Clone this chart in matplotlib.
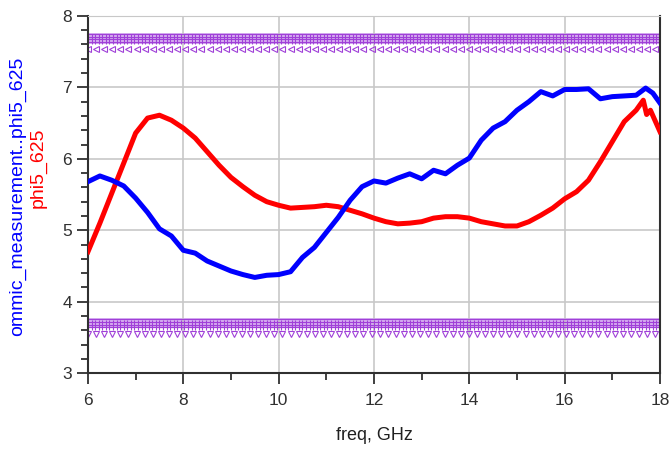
import numpy as np
import matplotlib
matplotlib.use("Agg")
import matplotlib.pyplot as plt

plt.rcParams['font.family'] = ['Liberation Sans', 'DejaVu Sans']

# measured curve (blue)
freq_meas = [6.0, 6.25, 6.5, 6.75, 7.0, 7.25, 7.5, 7.75, 8.0, 8.25, 8.5, 8.75,
             9.0, 9.25, 9.5, 9.75, 10.0, 10.25, 10.5, 10.75, 11.0, 11.25, 11.5,
             11.75, 12.0, 12.25, 12.5, 12.75, 13.0, 13.25, 13.5, 13.75, 14.0,
             14.25, 14.5, 14.75, 15.0, 15.25, 15.5, 15.75, 16.0, 16.25, 16.5,
             16.75, 17.0, 17.25, 17.5, 17.7, 17.85, 18.0]
phi_meas = [5.68, 5.76, 5.70, 5.62, 5.45, 5.25, 5.02, 4.92, 4.72, 4.68, 4.57, 4.50,
            4.43, 4.38, 4.34, 4.37, 4.38, 4.42, 4.62, 4.76, 4.97, 5.18, 5.42,
            5.61, 5.69, 5.66, 5.73, 5.79, 5.72, 5.84, 5.79, 5.91, 6.01,
            6.26, 6.43, 6.52, 6.68, 6.80, 6.94, 6.88, 6.97, 6.97, 6.98,
            6.84, 6.87, 6.88, 6.89, 6.99, 6.92, 6.78]

# simulated curve (red)
freq_sim = [6.0, 6.25, 6.5, 6.75, 7.0, 7.25, 7.5, 7.75, 8.0, 8.25, 8.5, 8.75,
            9.0, 9.25, 9.5, 9.75, 10.0, 10.25, 10.5, 10.75, 11.0, 11.25, 11.5,
            11.75, 12.0, 12.25, 12.5, 12.75, 13.0, 13.25, 13.5, 13.75, 14.0,
            14.25, 14.5, 14.75, 15.0, 15.25, 15.5, 15.75, 16.0, 16.25, 16.5,
            16.75, 17.0, 17.25, 17.5, 17.65, 17.72, 17.8, 18.0]
phi_sim = [4.70, 5.10, 5.52, 5.94, 6.36, 6.57, 6.61, 6.54, 6.43, 6.29, 6.10, 5.91,
           5.74, 5.61, 5.49, 5.40, 5.35, 5.31, 5.32, 5.33, 5.35, 5.33, 5.28,
           5.23, 5.17, 5.12, 5.09, 5.10, 5.12, 5.17, 5.19, 5.19, 5.17,
           5.12, 5.09, 5.06, 5.06, 5.12, 5.21, 5.31, 5.44, 5.54, 5.70,
           5.96, 6.24, 6.52, 6.68, 6.82, 6.62, 6.68, 6.38]

# limit bands (purple)
upper_band = (7.61, 7.76)
upper_lines = [7.75, 7.71, 7.67, 7.63]
upper_marks = 7.54
lower_band = (3.63, 3.77)
lower_lines = [3.76, 3.72, 3.68, 3.64]
lower_marks = 3.555

fig = plt.figure(figsize=(6.69, 4.54), dpi=100)
ax = fig.add_axes([0.1315, 0.178, 0.855, 0.787])

purple = '#a040d8'
tick_x = np.arange(6.0, 18.01, 0.075)
mark_x = np.arange(6.0, 18.01, 0.17)
for lo, hi in [upper_band, lower_band]:
    ax.axhspan(lo, hi, color='#d4aaf0', alpha=0.85, lw=0, zorder=1)
for y in upper_lines + lower_lines:
    ax.axhline(y, color=purple, lw=0.9, zorder=2)
for y in [upper_lines[2], lower_lines[2]]:
    ax.plot(tick_x, [y] * len(tick_x), ls='none', marker='|', ms=7,
            color=purple, mew=0.8, zorder=2)
ax.plot(mark_x, [upper_marks] * len(mark_x), ls='none', marker='<', ms=4,
        mfc='none', mec=purple, mew=0.8, zorder=2)
ax.plot(mark_x, [lower_marks] * len(mark_x), ls='none', marker='v', ms=4,
        mfc='none', mec=purple, mew=0.8, zorder=2)

ax.plot(freq_meas, phi_meas, color='#0000ff', lw=3.6, zorder=4)
ax.plot(freq_sim, phi_sim, color='#ff0000', lw=3.6, zorder=3)

ax.set_xlim(6, 18)
ax.set_ylim(3, 8)
ax.set_xticks([6, 8, 10, 12, 14, 16, 18])
ax.set_xticks([7, 9, 11, 13, 15, 17], minor=True)
ax.set_yticks([3, 4, 5, 6, 7, 8])
ax.set_yticks(np.arange(3, 8.01, 0.2), minor=True)
ax.grid(True, which='major', color='#c8c8c8', lw=1.2)
ax.tick_params(which='major', direction='out', length=8, width=1.3,
               labelsize=12.5, colors='#303030')
ax.tick_params(which='minor', direction='out', length=5, width=1.3, color='#303030')
ax.tick_params(axis='x', pad=6)

for s in ['left', 'bottom', 'right']:
    ax.spines[s].set_color('#303030')
    ax.spines[s].set_linewidth(1.5)
ax.spines['top'].set_color('#c8c8c8')

ax.set_xlabel('freq, GHz', fontsize=13, labelpad=14, color='#202020')

fig.text(0.026, 0.568, 'ommic_measurement..phi5_625', color='#0000ff',
         rotation=90, fontsize=14, ha='center', va='center')
fig.text(0.057, 0.63, 'phi5_625', color='#ff0000',
         rotation=90, fontsize=14, ha='center', va='center')

fig.savefig('out.png', dpi=100)
